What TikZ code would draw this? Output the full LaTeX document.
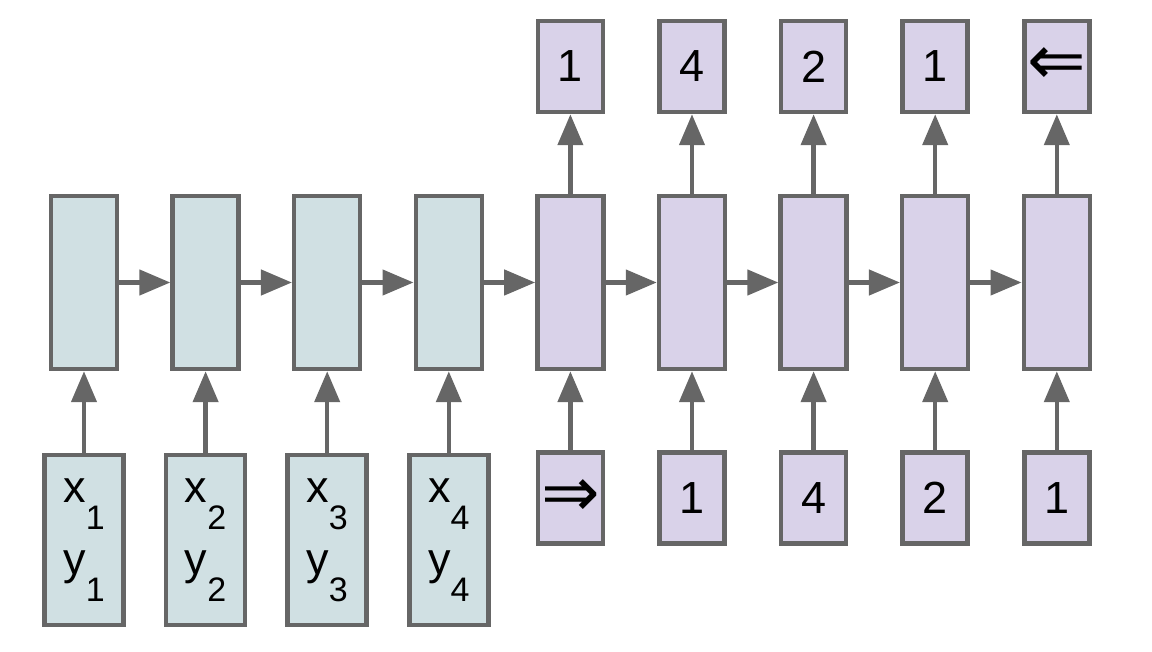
\documentclass[tikz,border=0pt]{standalone}
\usepackage{fontspec}
\setmainfont{Liberation Sans}
\newfontfamily\arrowfont{DejaVu Sans}
\usetikzlibrary{arrows.meta}

\definecolor{encfill}{HTML}{D0E0E3}
\definecolor{decfill}{HTML}{D9D2E9}
\definecolor{edgegray}{HTML}{666666}

\newcommand\lowidx[1]{\raisebox{-27pt}{\fontsize{34}{34}\selectfont #1}}
\newcommand\arr[1]{{\arrowfont\fontsize{70}{70}\selectfont #1}}

\tikzset{
  cell/.style={draw=edgegray, line width=4.5pt, inner sep=0pt,
    font=\fontsize{45}{72}\selectfont, align=center},
  state/.style={cell, minimum width=66pt, minimum height=173pt},
  encin/.style={cell, fill=encfill, minimum width=79pt, minimum height=170pt},
  token/.style={cell, fill=decfill, minimum width=65pt, minimum height=91pt},
  link/.style={draw=edgegray, line width=4.5pt,
    -{Triangle[length=31pt,width=25pt]}},
}

\begin{document}
\begin{tikzpicture}[x=1pt, y=-1pt]
\useasboundingbox (0,0) rectangle (1152,652);

\newcommand\DX{121.6}

%% hidden states
\foreach \i in {0,...,3}
  \node[state, fill=encfill] (m\i) at ({84+\DX*\i}, 282.5) {};
\foreach \i in {4,...,8}
  \node[state, fill=decfill] (m\i) at ({84+\DX*\i}, 282.5) {};

%% encoder inputs
\foreach \i/\k in {0/1,1/2,2/3,3/4}
  \node[encin] (in\i) at ({84+\DX*\i}, 540) {x\lowidx{\k}\\y\lowidx{\k}};

%% decoder inputs and outputs
\foreach \i/\t in {4/\arr{⇒},5/1,6/4,7/2,8/1}
  \node[token] (in\i) at ({84+\DX*\i}, 498) {\t};
\foreach \i/\t in {4/1,5/4,6/2,7/1,8/\arr{⇐}}
  \node[token] (out\i) at ({84+\DX*\i}, 66.5) {\t};

%% connections
\foreach \i [evaluate=\i as \j using int(\i+1)] in {0,...,7}
  \draw[link] (m\i) -- (m\j);
\foreach \i in {0,...,8}
  \draw[link] (in\i) -- (m\i);
\foreach \i in {4,...,8}
  \draw[link] (m\i) -- (out\i);
\end{tikzpicture}
\end{document}
